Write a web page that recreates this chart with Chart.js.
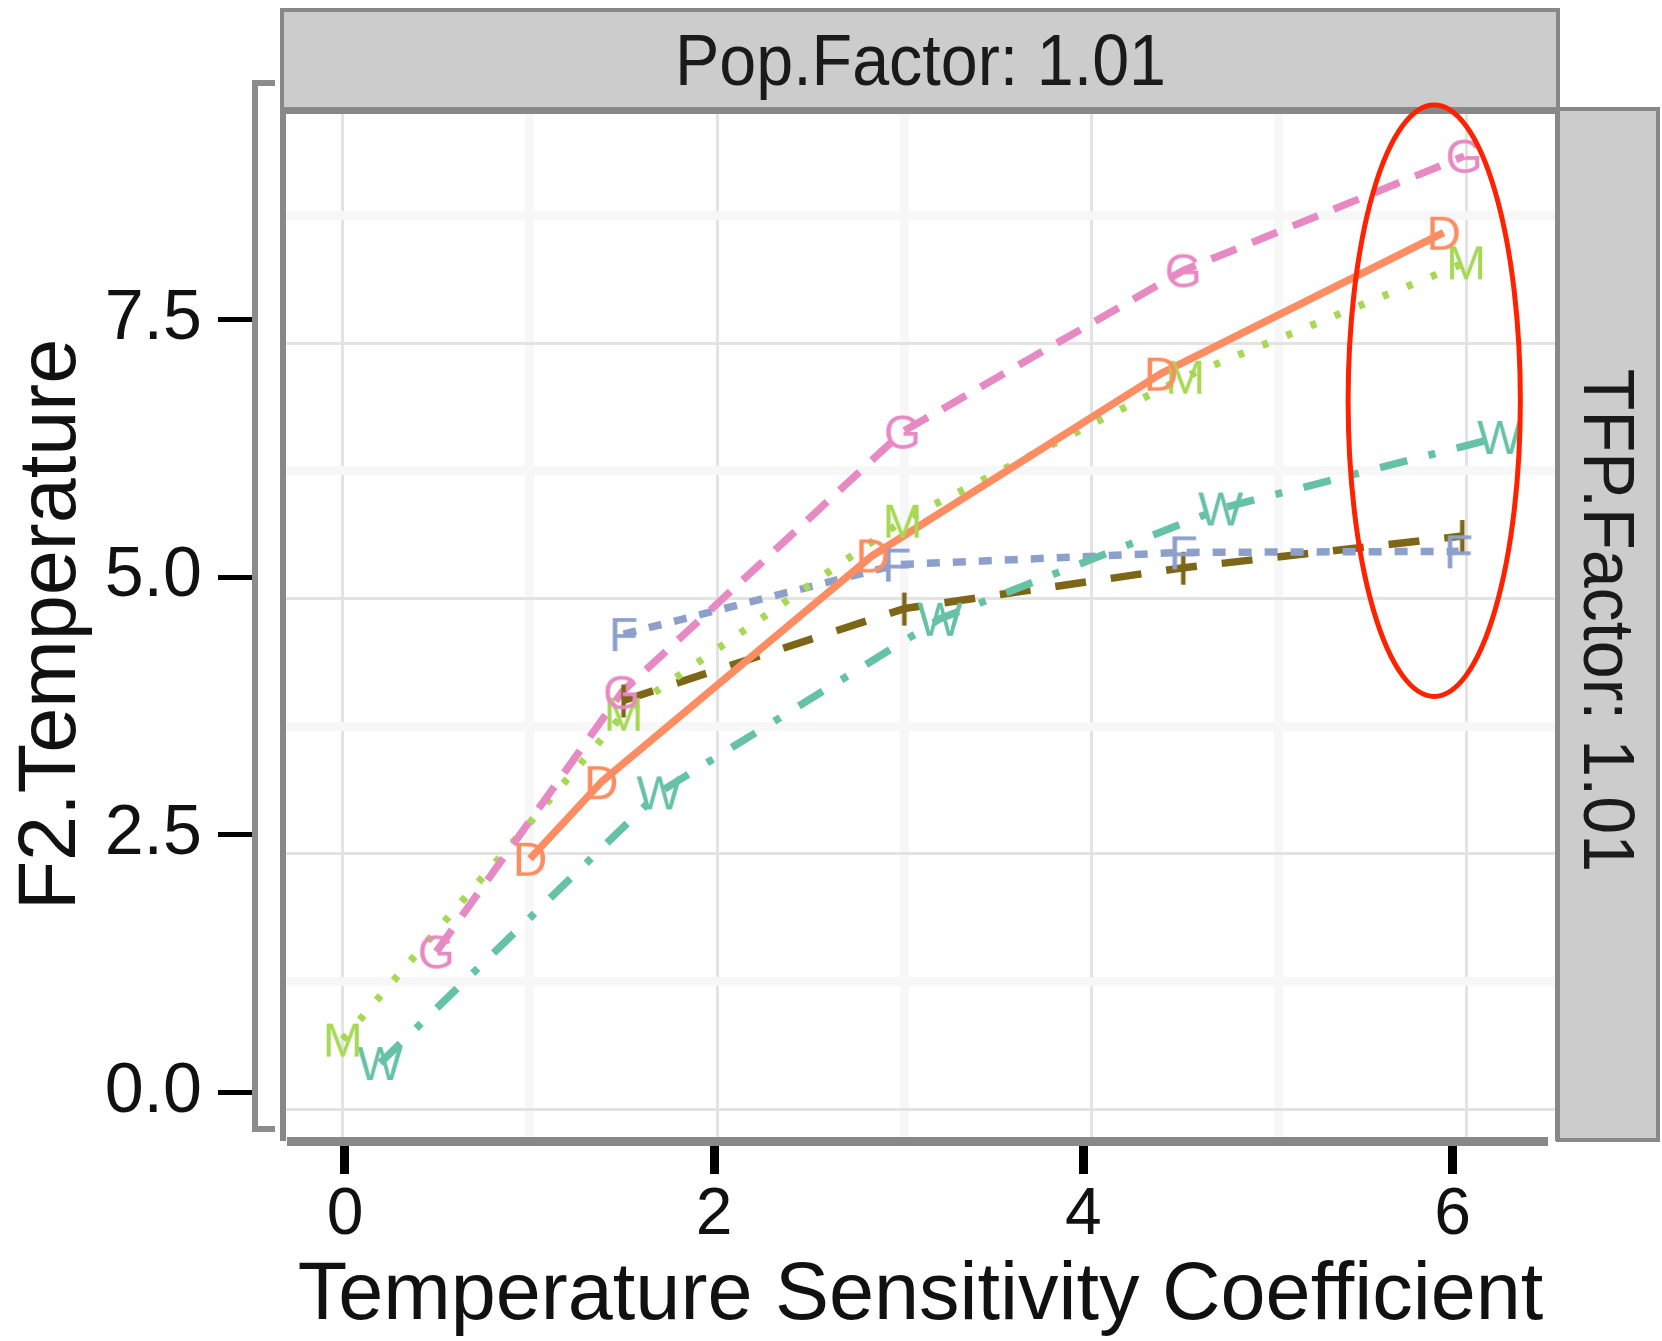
<!DOCTYPE html>
<html>
<head>
<meta charset="utf-8">
<title>F2.Temperature vs Temperature Sensitivity Coefficient</title>
<script src="https://cdn.jsdelivr.net/npm/chart.js@4.4.1/dist/chart.umd.min.js"></script>
<style>
  html, body { margin: 0; padding: 0; background: #fff; overflow: hidden; }
  #chart { display: block; }
</style>
</head>
<body>
<canvas id="chart" width="1662" height="1341"></canvas>
<script>
// Series values (x = sensitivity coefficient, y = F2.Temperature)
const seriesLetters = ["D", "G", "M", "W", "F", "I"];

const dX = [1.0, 1.38, 2.83, 4.37, 5.88];
const dY = [2.45, 3.2, 5.42, 7.2, 8.58];

const gX = [0.5, 1.49, 2.99, 4.49, 5.99];
const gY = [1.54, 4.08, 6.63, 8.21, 9.33];

const mX = [0.0, 1.5, 2.99, 4.5, 6.0];
const mY = [0.68, 3.87, 5.76, 7.17, 8.29];

const wX = [0.2, 1.69, 3.19, 4.69, 6.18];
const wY = [0.45, 3.1, 4.8, 5.88, 6.58];

const fX = [1.5, 2.96, 4.49, 5.96];
const fY = [4.65, 5.33, 5.45, 5.46];

const iX = [1.5, 3.0, 4.49, 5.98];
const iY = [4.0, 4.9, 5.3, 5.61];

// Tick labels and grid breaks
const xTickValues = [0, 2, 4, 6];
const yTickValues = [0, 2.5, 5, 7.5];
const xGridValues = [0, 1, 2, 3, 4, 5, 6];
const yGridValues = [0, 1.25, 2.5, 3.75, 5, 6.25, 7.5, 8.75];

const topStripLabel = "Pop.Factor: 1.01";
const rightStripLabel = "TFP.Factor: 1.01";
const xTitle = "Temperature Sensitivity Coefficient";
const yTitle = "F2.Temperature";

// red highlight round the last column (data units)
const highlight = { xFrom: 5.37, xTo: 6.29, yFrom: 4.04, yTo: 9.83 };

// Styles
const seriesColors = ["#FC8D62", "#E78AC3", "#A6D854", "#66C2A5", "#8DA0CB", "#7D6616"];
const seriesDash = [[], [27, 17], [6, 20], [28, 22, 7, 22], [13, 13], [31, 25]];
const FONT = '"Liberation Sans", Arial, sans-serif';
const gridMajor = "#E3E3E3";
const gridMinor = "#F7F7F7";
const frameGray = "#888888";
const stripFill = "#CCCCCC";

Chart.defaults.font.family = FONT;

// Letter used as the point marker
function letterImage(ch, color) {
  const c = document.createElement("canvas");
  c.width = 64;
  c.height = 64;
  const g = c.getContext("2d");
  g.font = "48px " + FONT;
  g.fillStyle = color;
  g.textAlign = "center";
  g.fillText(ch, 32, 32 + 48 * 0.358);
  return c;
}

const allX = [dX, gX, mX, wX, fX, iX];
const allY = [dY, gY, mY, wY, fY, iY];
const toPoints = (xs, ys) => xs.map((x, i) => ({ x: x, y: ys[i] }));

const lineSets = seriesLetters.map((s, k) => ({
  label: s,
  data: toPoints(allX[k], allY[k]),
  borderColor: seriesColors[k],
  borderWidth: 7.5,
  borderDash: seriesDash[k],
  borderCapStyle: "butt",
  borderJoinStyle: "round",
  pointRadius: 0,
  tension: 0,
  order: 1,
}));

const letterSets = seriesLetters.map((s, k) => ({
  label: s + " label",
  data: toPoints(allX[k], allY[k]),
  showLine: false,
  pointStyle: letterImage(s, seriesColors[k]),
  order: 0,
}));

// Facet strips, panel frame, axis bracket and the red ellipse
const decor = {
  id: "decor",
  beforeDraw(chart) {
    const ctx = chart.ctx;
    ctx.save();
    ctx.fillStyle = "#fff";
    ctx.fillRect(0, 0, chart.width, chart.height);
    ctx.restore();
  },
  afterDraw(chart) {
    const ctx = chart.ctx;
    const a = chart.chartArea;
    ctx.save();

    // top strip
    ctx.fillStyle = stripFill;
    ctx.fillRect(a.left - 6, 8, a.right - a.left + 11, a.top - 13);
    ctx.strokeStyle = frameGray;
    ctx.lineWidth = 4;
    ctx.strokeRect(a.left - 4, 10, a.right - a.left + 7, a.top - 10);

    // right strip
    ctx.fillStyle = stripFill;
    ctx.fillRect(a.right + 5, a.top - 5, 98, a.bottom - a.top + 9);
    ctx.strokeRect(a.right + 3, a.top - 3, 100, a.bottom - a.top + 6);

    // panel frame
    ctx.fillStyle = frameGray;
    ctx.fillRect(a.left - 6, a.top - 5, a.right - a.left + 11, 5);
    ctx.fillRect(a.left - 6, a.top - 5, 6, a.bottom - a.top + 9);
    ctx.fillRect(a.right, a.top - 5, 5, a.bottom - a.top + 9);
    ctx.fillRect(a.left + 1, a.bottom, a.right - a.left - 8, 9);

    // strip texts
    ctx.fillStyle = "#1A1A1A";
    ctx.font = "73px " + FONT;
    ctx.textAlign = "center";
    ctx.textBaseline = "alphabetic";
    ctx.save();
    ctx.translate((a.left + a.right) / 2, 85);
    ctx.scale(0.91, 1);
    ctx.fillText(topStripLabel, 0, 0);
    ctx.restore();
    ctx.save();
    ctx.translate(a.right + 29, (a.top + a.bottom) / 2 - 4);
    ctx.rotate(Math.PI / 2);
    ctx.scale(0.935, 1);
    ctx.fillText(rightStripLabel, 0, 0);
    ctx.restore();

    // y axis bracket
    const bx = chart.scales.ya.right;
    ctx.strokeStyle = "#8C8C8C";
    ctx.lineWidth = 6;
    ctx.beginPath();
    ctx.moveTo(bx + 20, a.top - 29);
    ctx.lineTo(bx, a.top - 29);
    ctx.lineTo(bx, a.bottom - 8);
    ctx.lineTo(bx + 20, a.bottom - 8);
    ctx.stroke();

    // red ellipse
    const xs = chart.scales.x;
    const ys = chart.scales.y;
    const x0 = xs.getPixelForValue(highlight.xFrom);
    const x1 = xs.getPixelForValue(highlight.xTo);
    const y0 = ys.getPixelForValue(highlight.yTo);
    const y1 = ys.getPixelForValue(highlight.yFrom);
    ctx.strokeStyle = "#FF2200";
    ctx.lineWidth = 5;
    ctx.beginPath();
    ctx.ellipse((x0 + x1) / 2, (y0 + y1) / 2, (x1 - x0) / 2, (y1 - y0) / 2, 0, 0, Math.PI * 2);
    ctx.stroke();

    ctx.restore();
  },
};

const isMajorX = (v) => xTickValues.includes(v);
const isMajorY = (v) => yTickValues.includes(v);

new Chart(document.getElementById("chart"), {
  type: "line",
  data: { datasets: letterSets.concat(lineSets) },
  options: {
    responsive: false,
    animation: false,
    devicePixelRatio: 1,
    events: [],
    layout: { padding: { left: 0, right: 107, top: 112, bottom: 0 } },
    plugins: { legend: { display: false }, tooltip: { enabled: false } },
    scales: {
      // data scales: carry the panel grid
      x: {
        type: "linear",
        position: "top",
        min: -0.303,
        max: 6.475,
        bounds: "data",
        afterBuildTicks: (s) => { s.ticks = xGridValues.map((v) => ({ value: v })); },
        afterFit: (s) => { s.height = 0; },
        ticks: { display: false },
        border: { display: false },
        grid: {
          drawTicks: false,
          color: (c) => (isMajorX(c.tick.value) ? gridMajor : gridMinor),
          lineWidth: (c) => (isMajorX(c.tick.value) ? 3 : 9),
        },
      },
      y: {
        type: "linear",
        position: "left",
        weight: 0,
        min: -0.274,
        max: 9.762,
        bounds: "data",
        afterBuildTicks: (s) => { s.ticks = yGridValues.map((v) => ({ value: v })); },
        afterFit: (s) => { s.width = 31; },
        ticks: { display: false },
        border: { display: false },
        grid: {
          drawTicks: false,
          color: (c) => (isMajorY(c.tick.value) ? gridMajor : gridMinor),
          lineWidth: (c) => (isMajorY(c.tick.value) ? 3 : 9),
        },
      },
      // axis scales: ticks, labels and titles
      xa: {
        type: "linear",
        axis: "x",
        position: "bottom",
        min: -0.3196,
        max: 6.555,
        bounds: "data",
        afterBuildTicks: (s) => { s.ticks = xTickValues.map((v) => ({ value: v })); },
        afterFit: (s) => { s.height = 204; },
        border: { display: false },
        grid: { drawOnChartArea: false, drawTicks: true, tickLength: 37, tickWidth: 9, tickColor: "#000" },
        ticks: {
          font: { size: 66 },
          color: "#111",
          padding: 2,
          maxRotation: 0,
          autoSkip: false,
          callback: (v) => String(v),
        },
        title: { display: true, text: xTitle, color: "#111", font: { size: 81, lineHeight: 1.1 }, padding: 0 },
      },
      ya: {
        type: "linear",
        axis: "y",
        position: "left",
        weight: 1,
        min: -0.4317,
        max: 9.511,
        bounds: "data",
        afterBuildTicks: (s) => { s.ticks = yTickValues.map((v) => ({ value: v })); },
        afterFit: (s) => { s.width = 255; },
        border: { display: false },
        grid: { drawOnChartArea: false, drawTicks: true, tickLength: 37, tickWidth: 5, tickColor: "#000" },
        ticks: {
          font: { size: 70 },
          color: "#111",
          padding: 16,
          autoSkip: false,
          callback: (v) => Number(v).toFixed(1),
        },
        title: { display: true, text: yTitle, color: "#111", font: { size: 81, lineHeight: 1.2 }, padding: { top: 4, bottom: 0 } },
      },
    },
  },
  plugins: [decor],
});
</script>
</body>
</html>
